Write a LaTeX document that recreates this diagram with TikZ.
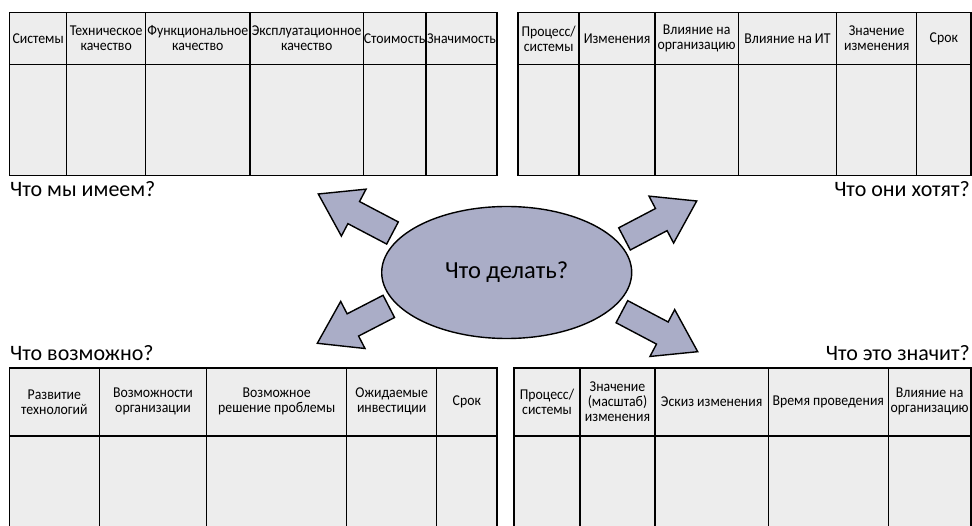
\documentclass[tikz,border=0pt]{standalone}
\usepackage{fontspec}
\setmainfont{Carlito}
\newfontfamily\headfont[FakeStretch=0.92]{Carlito}
\usetikzlibrary{calc,shapes.geometric}

\definecolor{cellgray}{HTML}{EDEDED}
\definecolor{bluegray}{HTML}{AAADC7}

\tikzset{
  gridline/.style={draw=black, line width=1.3pt},
  frame/.style={draw=black, line width=1.8pt},
  head/.style={align=center, font=\headfont\fontsize{15}{15}\selectfont, inner sep=0pt},
  caption/.style={font=\fontsize{22}{26}\selectfont, inner sep=0pt},
  hub/.style={ellipse, draw=black, fill=bluegray, line width=1.4pt,
    minimum width=250pt, minimum height=132pt, inner sep=0pt,
    font=\fontsize{24.5}{26}\selectfont},
  bigarrow/.style={fill=bluegray, draw=black, line width=1.4pt, line join=miter},
}

% table: left, right, top, header bottom, bottom, inner column lines
\newcommand\gridtable[6]{%
  \fill[cellgray] (#1,#3) rectangle (#2,#5);
  \foreach \cx in {#6} \draw[gridline] (\cx,#3) -- (\cx,#5);
  \draw[gridline] (#1,#4) -- (#2,#4);
  \draw[frame] (#1,#3) rectangle (#2,#5);
}

% block arrow: name, tail, tip
\newcommand\blockarrow[3]{%
  \coordinate (#1-base) at ($(#3)!40pt!(#2)$);
  \draw[bigarrow]
    ($(#2)!12.5pt!90:(#3)$) --
    ($(#1-base)!12.5pt!-90:(#2)$) --
    ($(#1-base)!26.5pt!-90:(#2)$) --
    (#3) --
    ($(#1-base)!26.5pt!90:(#2)$) --
    ($(#1-base)!12.5pt!90:(#2)$) --
    ($(#2)!12.5pt!-90:(#3)$) -- cycle;
}

\begin{document}
\begin{tikzpicture}[x=1pt, y=-1pt]
\clip (0,0) rectangle (972,526);
\fill[white] (0,0) rectangle (972,526);

% what we have
\gridtable{9.5}{497}{12.5}{64.5}{175.5}{66.7,145.7,250,363.3,426}
\node[head] (a1) at (38.1,38.5) {Системы};
\node[head] (a2) at (106.2,38.5) {Техническое\\качество};
\node[head] (a3) at (197.85,38.5) {Функциональное\\качество};
\node[head] (a4) at (306.65,38.5) {Эксплуатационное\\качество};
\node[head] (a5) at (394.65,38.5) {Стоимость};
\node[head] (a6) at (461.5,38.5) {Значимость};
\node[caption, anchor=base west] (have) at (10,197) {Что мы имеем?};

% what they want
\gridtable{518.3}{971}{12.5}{64.5}{175.5}{579,655,738.3,836.7,916.7}
\node[head] (b1) at (548.65,38.5) {Процесс/\\системы};
\node[head] (b2) at (617,38.5) {Изменения};
\node[head] (b3) at (696.65,38.5) {Влияние на\\организацию};
\node[head] (b4) at (787.5,38.5) {Влияние на ИТ};
\node[head] (b5) at (876.7,38.5) {Значение\\изменения};
\node[head] (b6) at (943.85,38.5) {Срок};
\node[caption, anchor=base east] (want) at (970,197) {Что они хотят?};

% what is possible
\gridtable{9.5}{497}{367.7}{436}{530}{99.3,206.7,346.7,436.7}
\node[head] (c1) at (54.4,401.85) {Развитие\\технологий};
\node[head] (c2) at (153,401.85) {Возможности\\организации};
\node[head] (c3) at (276.7,401.85) {Возможное\\решение проблемы};
\node[head] (c4) at (391.7,401.85) {Ожидаемые\\инвестиции};
\node[head] (c5) at (466.85,401.85) {Срок};
\node[caption, anchor=base west] (possible) at (10,361) {Что возможно?};

% what it means
\gridtable{514}{971}{367.7}{436}{530}{580,655,768.3,888.3}
\node[head] (d1) at (547,401.85) {Процесс/\\системы};
\node[head] (d2) at (617.5,401.85) {Значение\\(масштаб)\\изменения};
\node[head] (d3) at (711.65,401.85) {Эскиз изменения};
\node[head] (d4) at (828.3,401.85) {Время проведения};
\node[head] (d5) at (929.65,401.85) {Влияние на\\организацию};
\node[caption, anchor=base east] (means) at (970,361) {Что это значит?};

% centre and the four directions
\node[hub] (hub) at (506.7,272.5) {Что делать?};

\coordinate (nw-tail) at (392.5,233);   \coordinate (nw-tip) at (318.3,194);
\coordinate (ne-tail) at (624.5,238.9); \coordinate (ne-tip) at (696.7,201);
\coordinate (sw-tail) at (388.8,306.4); \coordinate (sw-tip) at (317.3,343.3);
\coordinate (se-tail) at (621.9,311.7); \coordinate (se-tip) at (697.7,351.7);

\blockarrow{nw}{nw-tail}{nw-tip}
\blockarrow{ne}{ne-tail}{ne-tip}
\blockarrow{sw}{sw-tail}{sw-tip}
\blockarrow{se}{se-tail}{se-tip}
\end{tikzpicture}
\end{document}
